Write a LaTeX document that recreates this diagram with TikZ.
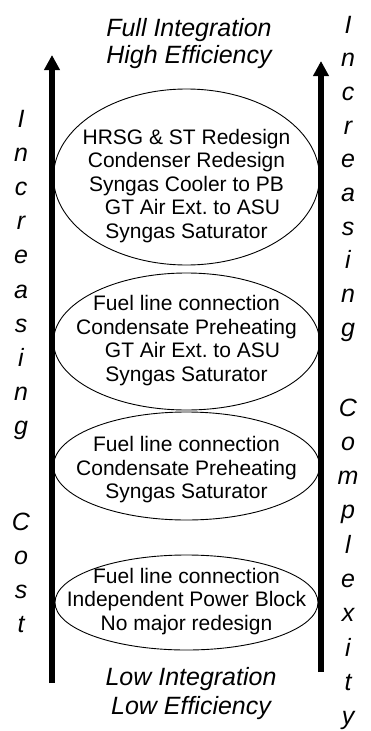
\documentclass[tikz,border=0pt]{standalone}
\usepackage{fontspec}
\setmainfont{Liberation Sans}
\usetikzlibrary{shapes.geometric,arrows.meta}
\begin{document}
\begin{tikzpicture}[x=1pt,y=-1pt,
  stage/.style={draw, ellipse, line width=0.9pt, inner sep=0pt, minimum width=266pt},
  stagetext/.style={align=center, inner sep=0pt, font=\fontsize{21}{23.5}\selectfont},
  headline/.style={inner sep=0pt, anchor=base, font=\fontsize{25}{28}\selectfont\itshape},
  letter/.style={inner sep=0pt, anchor=base, font=\fontsize{25}{28}\selectfont\itshape},
  trend/.style={line width=5.5pt, -{Triangle[width=15pt,length=15pt]}}]

\useasboundingbox (0,0) rectangle (371,731);

% the two trend arrows
\coordinate (costfoot) at (52,683);
\coordinate (costhead) at (52,55);
\coordinate (cplxfoot) at (321,672);
\coordinate (cplxhead) at (321,61);
\draw[trend] (costfoot) -- (costhead);
\draw[trend] (cplxfoot) -- (cplxhead);

% integration levels, from full (top) to low (bottom)
\node[stage, minimum height=176pt] (lvl4) at (186.5,177) {};
\node[stage, minimum height=137pt] (lvl3) at (186.5,341.5) {};
\node[stage, minimum height=108pt] (lvl2) at (186.5,466) {};
\node[stage, minimum height=95pt, minimum width=263pt] (lvl1) at (186.5,602.5) {};

\node[stagetext] (txt4) at (lvl4.center) [yshift=-8.7pt]
  {HRSG \& ST Redesign\\Condenser Redesign\\Syngas Cooler to PB\\\hspace*{12pt}GT Air Ext.\ to ASU\\Syngas Saturator};
\node[stagetext] (txt3) at (186.5,340.7)
  {Fuel line connection\\Condensate Preheating\\\hspace*{12pt}GT Air Ext.\ to ASU\\Syngas Saturator};
\node[stagetext] (txt2) at (186.5,469.7)
  {Fuel line connection\\Condensate Preheating\\Syngas Saturator};
\node[stagetext] (txt1) at (186.5,601.2)
  {Fuel line connection\\Independent Power Block\\No major redesign};

% headings
\node[headline] (topA) at (189,36) {Full Integration};
\node[headline] (topB) at (189,63) {High Efficiency};
\node[headline] (botA) at (191,685) {Low Integration};
\node[headline] (botB) at (191,714) {Low Efficiency};

% vertical words beside the arrows
\foreach \ch [count=\k from 0] in {I,n,c,r,e,a,s,i,n,g}
  \node[letter] (costinc\k) at (21,{127+34.2*\k}) {\ch};
\foreach \ch [count=\k from 0] in {C,o,s,t}
  \node[letter] (cost\k) at (21,{530+34*\k}) {\ch};
\foreach \ch [count=\k from 0] in {I,n,c,r,e,a,s,i,n,g}
  \node[letter] (cplxinc\k) at (348,{33+33.7*\k}) {\ch};
\foreach \ch [count=\k from 0] in {C,o,m,p,l,e,x,i,t,y}
  \node[letter] (cplx\k) at (348,{416+34.3*\k}) {\ch};
\end{tikzpicture}
\end{document}
